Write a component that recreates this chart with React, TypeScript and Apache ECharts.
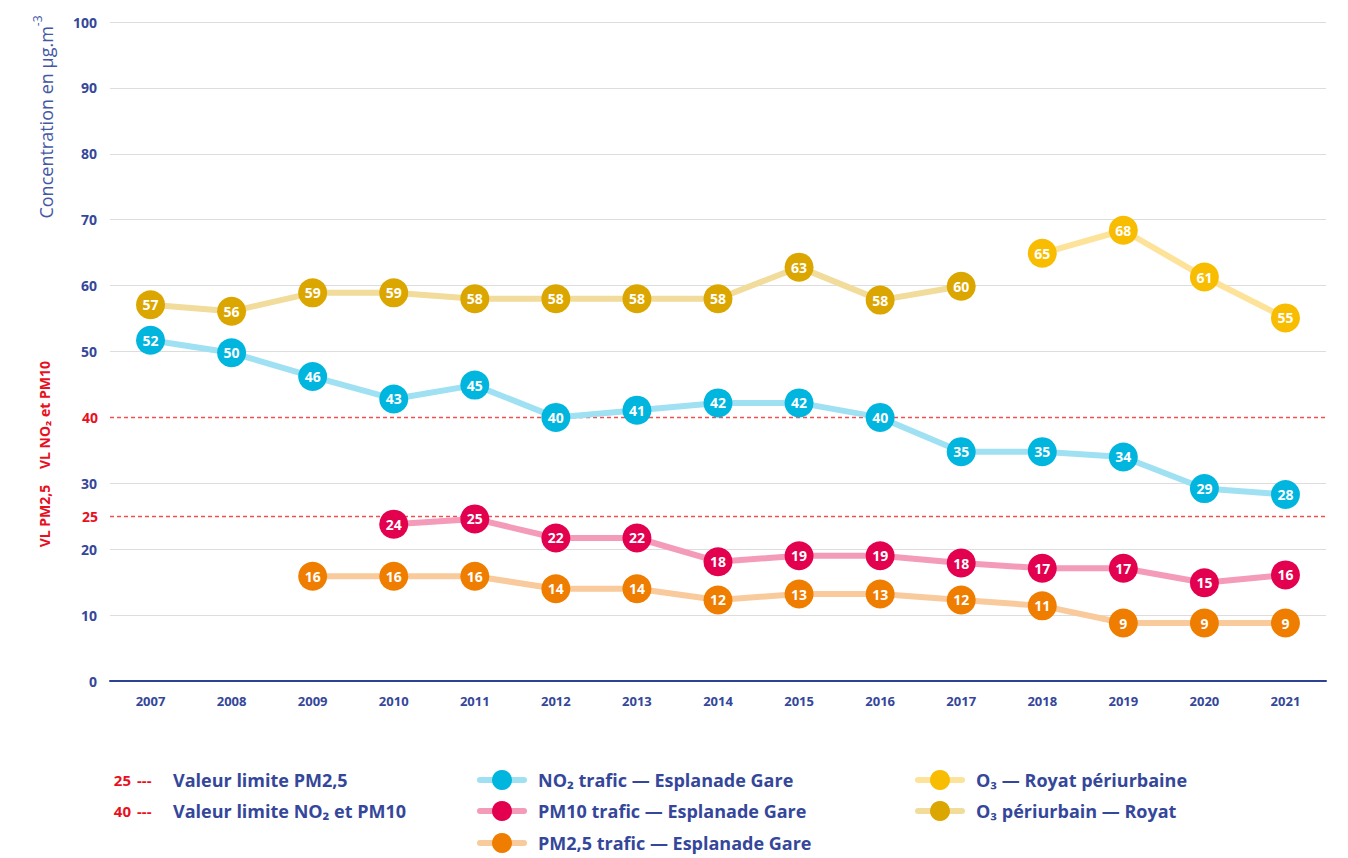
import React, { useEffect, useRef } from "react";
import * as echarts from "echarts";

const years = ["2007", "2008", "2009", "2010", "2011", "2012", "2013", "2014", "2015", "2016", "2017", "2018", "2019", "2020", "2021"];
const no2Values = [51.7, 49.8, 46.2, 42.8, 44.9, 40.0, 41.1, 42.2, 42.2, 40.0, 34.8, 34.8, 34.0, 29.2, 28.3];
const pm10Values = [null, null, null, 23.8, 24.6, 21.7, 21.7, 18.1, 19.0, 19.0, 17.9, 17.1, 17.1, 14.9, 16.1];
const pm25Values = [null, null, 15.9, 15.9, 15.9, 14.0, 14.0, 12.3, 13.2, 13.2, 12.3, 11.4, 8.8, 8.8, 8.8];
const o3PeriValues = [57.1, 56.1, 58.9, 58.9, 58.0, 58.0, 58.0, 58.0, 62.8, 57.8, 59.9, null, null, null, null];
const o3RoyatValues = [null, null, null, null, null, null, null, null, null, null, null, 64.9, 68.4, 61.3, 55.1];
const limitValues = [25, 40];
const limitLabels = ["Valeur limite PM2,5", "Valeur limite NO₂ et PM10"];

const BLUE = "#34479a";
const RED = "#e8101e";
const FONT = "'Open Sans', 'Noto Sans', sans-serif";

const seriesDefs = [
  { name: "O₃ périurbain — Royat", data: o3PeriValues, dot: "#dca600", line: "#f1dc9c" },
  { name: "O₃ — Royat périurbaine", data: o3RoyatValues, dot: "#f8bc00", line: "#fde39a" },
  { name: "NO₂ trafic — Esplanade Gare", data: no2Values, dot: "#00b5de", line: "#9fe1f2" },
  { name: "PM10 trafic — Esplanade Gare", data: pm10Values, dot: "#e2004f", line: "#f39bb9" },
  { name: "PM2,5 trafic — Esplanade Gare", data: pm25Values, dot: "#ef7d00", line: "#f9ca9b" },
];

const legendLayout = [
  { idx: 2, x: 480, y: 780 },
  { idx: 3, x: 480, y: 811 },
  { idx: 4, x: 480, y: 843 },
  { idx: 1, x: 918, y: 780 },
  { idx: 0, x: 918, y: 811 },
];

export default function App() {
  const ref = useRef<HTMLDivElement>(null);
  useEffect(() => {
    if (!ref.current) return;
    const chart = echarts.init(ref.current, null, { renderer: "svg" });

    const graphic: any[] = [];
    graphic.push({
      type: "text",
      x: 43,
      y: 117,
      rotation: Math.PI / 2,
      style: {
        text: "{a|Concentration en µg.m}{s|-3}",
        align: "center",
        verticalAlign: "middle",
        rich: {
          a: { fontFamily: FONT, fontSize: 18, fill: "#4358a5", lineHeight: 24, verticalAlign: "bottom" },
          s: { fontFamily: FONT, fontSize: 12, fill: "#4358a5", lineHeight: 24, verticalAlign: "top" },
        },
      },
    });
    graphic.push({
      type: "text",
      x: 44,
      y: 415,
      rotation: Math.PI / 2,
      style: { text: "VL NO₂ et PM10", align: "center", verticalAlign: "middle", fontFamily: FONT, fontWeight: "bold", fontSize: 14, fill: RED },
    });
    graphic.push({
      type: "text",
      x: 44,
      y: 516,
      rotation: Math.PI / 2,
      style: { text: "VL PM2,5", align: "center", verticalAlign: "middle", fontFamily: FONT, fontWeight: "bold", fontSize: 14, fill: RED },
    });
    limitValues.forEach((v, i) => {
      const y = 780 + i * 31;
      graphic.push({
        type: "text",
        x: 131,
        y,
        style: { text: String(v), align: "right", verticalAlign: "middle", fontFamily: FONT, fontWeight: "bold", fontSize: 15, fill: RED },
      });
      graphic.push({
        type: "text",
        x: 137,
        y,
        style: { text: "---", align: "left", verticalAlign: "middle", fontFamily: FONT, fontWeight: "bold", fontSize: 15, fill: RED },
      });
      graphic.push({
        type: "text",
        x: 173,
        y,
        style: { text: limitLabels[i], align: "left", verticalAlign: "middle", fontFamily: FONT, fontWeight: "bold", fontSize: 18, fill: BLUE },
      });
    });
    legendLayout.forEach((l) => {
      const s = seriesDefs[l.idx];
      graphic.push({
        type: "line",
        shape: { x1: l.x, y1: l.y, x2: l.x + 44, y2: l.y },
        style: { stroke: s.line, lineWidth: 6, lineCap: "round" },
      });
      graphic.push({
        type: "circle",
        shape: { cx: l.x + 22, cy: l.y, r: 10 },
        style: { fill: s.dot },
      });
      graphic.push({
        type: "text",
        x: l.x + 58,
        y: l.y,
        style: { text: s.name, align: "left", verticalAlign: "middle", fontFamily: FONT, fontWeight: "bold", fontSize: 18, fill: BLUE },
      });
    });

    const gridColors = ["#dddddd", "#dddddd", "#dddddd", "#dddddd", "transparent", "#dddddd", "#dddddd", "#dddddd", "#dddddd", "#dddddd", "#dddddd"];

    const series: any[] = seriesDefs.map((s, i) => ({
      name: s.name,
      type: "line",
      data: s.data,
      symbol: "circle",
      symbolSize: 29,
      showAllSymbol: true,
      connectNulls: false,
      lineStyle: { color: s.line, width: 6 },
      itemStyle: { color: s.dot },
      label: {
        show: true,
        position: "inside",
        color: "#ffffff",
        fontFamily: FONT,
        fontWeight: "bold",
        fontSize: 14,
        formatter: (p: any) => String(Math.round(p.value)),
      },
      emphasis: { disabled: true },
      z: 3 + i,
    }));
    series.push({
      name: "limits",
      type: "line",
      data: [],
      silent: true,
      markLine: {
        silent: true,
        symbol: "none",
        animation: false,
        lineStyle: { color: "#f25050", type: [4, 3], width: 1.3 },
        label: {
          show: true,
          position: "start",
          distance: 12,
          color: RED,
          fontFamily: FONT,
          fontWeight: "bold",
          fontSize: 14,
          formatter: (p: any) => String(p.value),
        },
        data: limitValues.map((v) => ({ yAxis: v })),
      },
      z: 2,
    });

    chart.setOption({
      animation: false,
      backgroundColor: "#ffffff",
      grid: { left: 110, right: 22, top: 22, bottom: 177, containLabel: false },
      xAxis: {
        type: "category",
        data: years,
        boundaryGap: true,
        axisTick: { show: false },
        axisLine: { lineStyle: { color: "#2d4295", width: 2 } },
        axisLabel: { color: BLUE, fontFamily: FONT, fontWeight: "bold", fontSize: 13, margin: 13 },
        splitLine: { show: false },
      },
      yAxis: {
        type: "value",
        min: 0,
        max: 100,
        interval: 10,
        axisLine: { show: false },
        axisTick: { show: false },
        axisLabel: {
          color: BLUE,
          fontFamily: FONT,
          fontWeight: "bold",
          fontSize: 14,
          margin: 13,
          formatter: (v: number) => (v === 40 ? "" : String(v)),
        },
        splitLine: { lineStyle: { color: gridColors, width: 1 } },
      },
      series,
      graphic,
    });
    return () => chart.dispose();
  }, []);
  return <div ref={ref} style={{ position: "absolute", left: 0, top: 0, width: 1348, height: 858 }} />;
}
